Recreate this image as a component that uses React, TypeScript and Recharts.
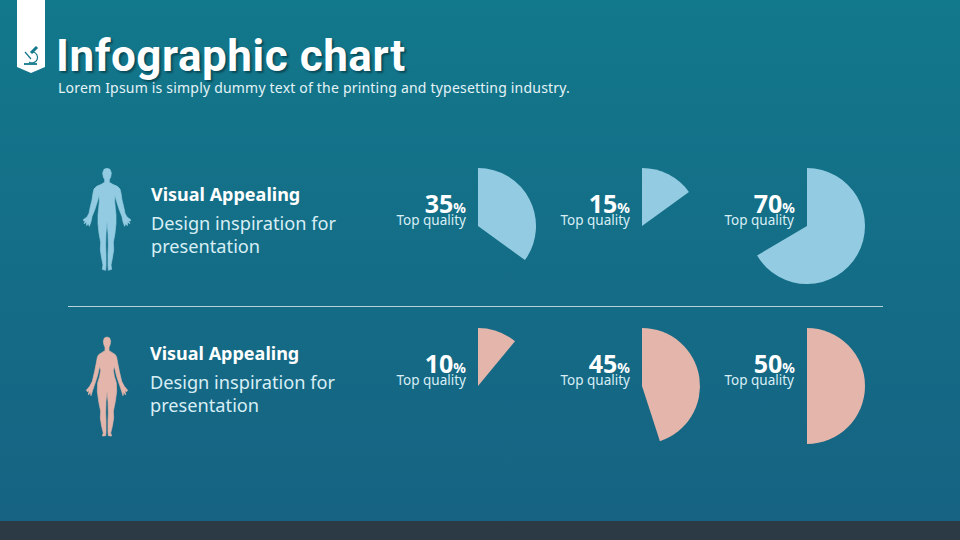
import React from "react";
import { PieChart, Pie, Cell } from "recharts";

const topLabels = [35, 15, 70];
const bottomLabels = [10, 45, 50];
const topShares = [35, 15, 66.5];
const bottomShares = [11, 45, 50];
const centersX = [478, 642, 807];
const rowCentersY = [226, 386];
const qualityLabel = "Top quality";
const titleText = "Infographic chart";
const subtitleText = "Lorem Ipsum is simply dummy text of the printing and typesetting industry.";
const headingText = "Visual Appealing";
const bodyLines = ["Design inspiration for", "presentation"];

const BLUE = "#93cce2";
const PINK = "#e4b5aa";
const FONT = "'Noto Sans', 'Open Sans', sans-serif";
const WIDTH = 960;
const HEIGHT = 540;

const maleOutline: [number, number][] = [
  [81, 10], [90, 13], [94, 24], [92, 36], [88, 44], [88, 52], [98, 58], [112, 64], [120, 72], [123, 85],
  [126, 105], [131, 125], [135, 145], [141, 156], [152, 164], [151, 168], [146, 168], [150, 176], [143, 172],
  [142, 182], [137, 176], [134, 184], [129, 170], [126, 155], [117, 132], [110, 110], [105, 90], [104, 110],
  [106, 130], [108, 150], [108, 175], [105, 205], [100, 232], [101, 255], [97, 280], [93, 300], [95, 313],
  [85, 316], [84, 300], [84, 270], [85, 240], [84, 205], [81, 170],
];
const femaleOutline: [number, number][] = [
  [81, 12], [89, 15], [92, 25], [90, 36], [87, 43], [87, 53], [97, 59], [106, 65], [110, 73], [113, 90],
  [118, 115], [125, 145], [133, 160], [143, 172], [140, 176], [135, 173], [137, 186], [131, 178], [129, 188],
  [124, 172], [120, 160], [110, 130], [103, 100], [100, 112], [103, 130], [109, 150], [110, 175], [106, 205],
  [100, 235], [101, 255], [97, 280], [92, 300], [95, 309], [85, 308], [84, 295], [84, 265], [85, 240], [84, 205],
  [81, 175],
];

const toSlices = (v: number) => [
  { name: "value", value: v },
  { name: "rest", value: 100 - v },
];

const abs = (left: number, top: number, extra: React.CSSProperties = {}): React.CSSProperties => ({
  position: "absolute",
  left,
  top,
  whiteSpace: "nowrap",
  fontFamily: FONT,
  ...extra,
});

function Figure({ x, y, color, outline }: { x: number; y: number; color: string; outline: [number, number][] }) {
  const mirrored = [...outline].reverse().map(([a, b]) => [162 - a, b]);
  const d = [...outline, ...mirrored].map(([a, b], i) => `${i ? "L" : "M"}${a} ${b}`).join("") + "Z";
  return (
    <svg style={{ position: "absolute", left: x, top: y }} width="55" height="110" viewBox="0 0 165 330">
      <path d={d} fill={color} stroke={color} strokeWidth="2" strokeLinejoin="round" />
    </svg>
  );
}

function Stat({ cx, cy, value, labelShift }: { cx: number; cy: number; value: number; labelShift: number }) {
  const right = WIDTH - (cx - 12);
  return (
    <>
      <div style={{ position: "absolute", right, top: cy - 33, whiteSpace: "nowrap", fontFamily: FONT, fontWeight: 700, color: "#fff", fontSize: 25, lineHeight: "20px" }}>
        {value}
        <span style={{ fontSize: 14 }}>%</span>
      </div>
      <div style={{ position: "absolute", right: right + labelShift, top: cy - 13, whiteSpace: "nowrap", fontFamily: FONT, color: "#d8eef5", fontSize: 13.5, lineHeight: "14px" }}>
        {qualityLabel}
      </div>
    </>
  );
}

function Copy({ x, y, leading }: { x: number; y: number; leading: number }) {
  return (
    <>
      <div style={abs(x, y, { color: "#fff", fontWeight: 700, fontSize: 18, lineHeight: "24px" })}>{headingText}</div>
      <div style={abs(x, y + 30, { color: "#d8eef5", fontSize: 18.2, lineHeight: `${leading}px` })}>
        {bodyLines.map((l) => (
          <div key={l}>{l}</div>
        ))}
      </div>
    </>
  );
}

export default function App() {
  const rows = [
    { shares: topShares, labels: topLabels, color: BLUE, cy: rowCentersY[0] },
    { shares: bottomShares, labels: bottomLabels, color: PINK, cy: rowCentersY[1] },
  ];
  return (
    <div
      style={{
        position: "absolute",
        left: 0,
        top: 0,
        width: WIDTH,
        height: HEIGHT,
        overflow: "hidden",
        background: "linear-gradient(180deg, #12788b 0%, #166282 100%)",
      }}
    >
      <svg style={{ position: "absolute", left: 0, top: 0 }} width="60" height="80">
        <path d="M17 0H45V67L31 73L17 67Z" fill="#fff" />
        <g fill="none" stroke="#12788b" strokeWidth="1.200">
          <path d="M37 47L31 53" strokeWidth="3" />
          <path d="M33 52a5.500 5.500 0 1 1 -4 10" />
          <path d="M24 64H37" strokeWidth="1.800" />
          <path d="M25 52L31 59" />
        </g>
      </svg>
      <div
        style={abs(56, 34, {
          fontFamily: "Roboto, sans-serif",
          color: "#fff",
          fontWeight: 700,
          fontSize: 44,
          lineHeight: "44px",
          letterSpacing: 0.55,
          textShadow: "2px 2px 2px rgba(0,40,50,0.55)",
        })}
      >
        {titleText}
      </div>
      <div style={abs(58, 78, { color: "#e4f3f7", fontSize: 14, lineHeight: "20px", letterSpacing: 0.2 })}>{subtitleText}</div>

      <Figure x={80} y={165} color={BLUE} outline={maleOutline} />
      <Copy x={151} y={182} leading={23} />
      <Figure x={80} y={333} color={PINK} outline={femaleOutline} />
      <Copy x={150} y={341} leading={22.500} />

      <div style={{ position: "absolute", left: 68, top: 306, width: 815, height: 1, background: "#b6d3dc" }} />
      <div style={{ position: "absolute", left: 0, top: 521, width: WIDTH, height: 19, background: "#2c3a46" }} />

      <div style={{ position: "absolute", left: 0, top: 0 }}>
        <PieChart width={WIDTH} height={HEIGHT} margin={{ top: 0, right: 0, bottom: 0, left: 0 }}>
          {rows.flatMap((row, r) =>
            row.shares.map((v, i) => (
              <Pie
                key={`${r}-${i}`}
                data={toSlices(v)}
                dataKey="value"
                cx={centersX[i]}
                cy={row.cy}
                outerRadius={58}
                innerRadius={0}
                startAngle={90}
                endAngle={-270}
                stroke="none"
                isAnimationActive={false}
                labelLine={false}
              >
                <Cell fill={row.color} />
                <Cell fill="transparent" />
              </Pie>
            ))
          )}
        </PieChart>
      </div>

      {rows.map((row, r) =>
        row.labels.map((v, i) => (
          <Stat key={`${r}-${i}`} cx={centersX[i]} cy={row.cy} value={v} labelShift={i === 2 ? 1 : 0} />
        ))
      )}
    </div>
  );
}
